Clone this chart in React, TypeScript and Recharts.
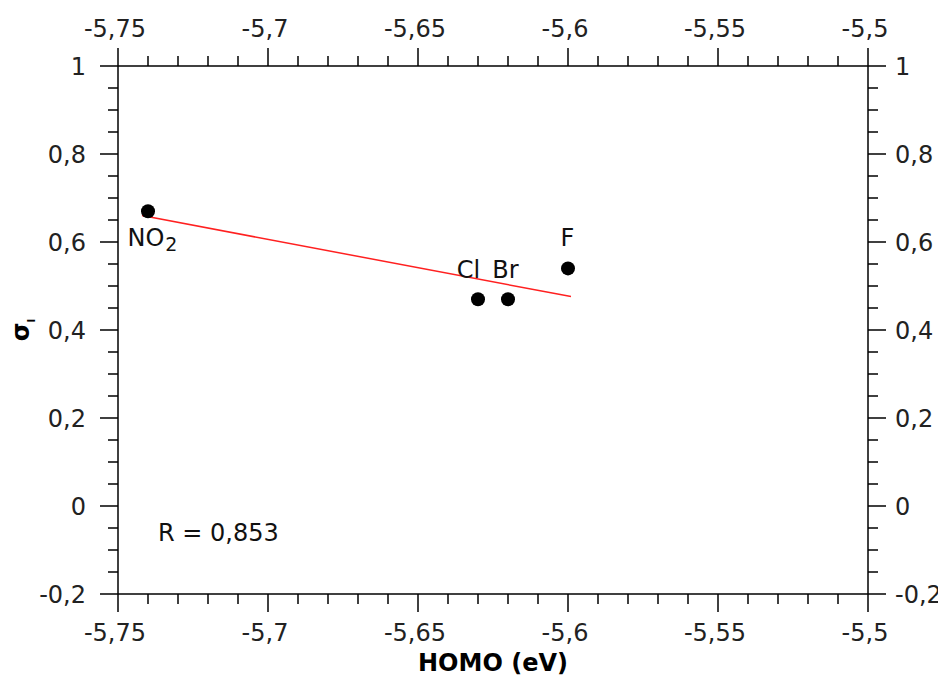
import React from 'react';
import { ComposedChart, Scatter, Line, XAxis, YAxis, LabelList, Customized } from 'recharts';

// substituents, HOMO energy (eV) and inductive constant sigma_I
const substituents = ['NO2', 'Cl', 'Br', 'F'];
const homo = [-5.74, -5.63, -5.62, -5.6];
const sigmaI = [0.67, 0.47, 0.47, 0.54];

// least-squares fit, end points
const fitHomo = [-5.742, -5.599];
const fitSigma = [0.66, 0.476];
const rValue = '0,853';

const xMajor = [-5.75, -5.7, -5.65, -5.6, -5.55, -5.5];
const xMinor = [
  -5.74, -5.73, -5.72, -5.71, -5.69, -5.68, -5.67, -5.66, -5.64, -5.63,
  -5.62, -5.61, -5.59, -5.58, -5.57, -5.56, -5.54, -5.53, -5.52, -5.51,
];
const yMajor = [-0.2, 0, 0.2, 0.4, 0.6, 0.8, 1];
const yMinor = [
  -0.15, -0.1, -0.05, 0.05, 0.1, 0.15, 0.25, 0.3, 0.35, 0.45, 0.5, 0.55,
  0.65, 0.7, 0.75, 0.85, 0.9, 0.95,
];

const points = substituents.map((name, i) => ({ name, x: homo[i], y: sigmaI[i] }));
const fitLine = fitHomo.map((x, i) => ({ x, y: fitSigma[i] }));

const xTicks = [...xMajor, ...xMinor].sort((a, b) => a - b);
const yTicks = [...yMajor, ...yMinor].sort((a, b) => a - b);

const FONT = 'DejaVu Sans';
const W = 938;
const H = 671;

const fmt = (v: number) => String(v).replace('.', ',');
const isMajor = (v: number, list: number[]) => list.some((m) => Math.abs(m - v) < 1e-9);

// ticks point outward; majors are long and labelled
const makeTick = (side: 'top' | 'bottom' | 'left' | 'right', majors: number[]) => (props: any) => {
  const { x, y, payload } = props;
  const v = payload.value;
  const major = isMajor(v, majors);
  const len = major ? 18 : 10;
  let x2 = x;
  let y2 = y;
  if (side === 'bottom') y2 = y + len;
  if (side === 'top') y2 = y - len;
  if (side === 'left') x2 = x - len;
  if (side === 'right') x2 = x + len;
  let label = null;
  if (major) {
    const common = { fontFamily: FONT, fontSize: 24, fill: '#222' };
    if (side === 'bottom')
      label = <text x={x - 3} y={y + 47} textAnchor="middle" {...common}>{fmt(v)}</text>;
    if (side === 'top')
      label = <text x={x - 3} y={y - 29} textAnchor="middle" {...common}>{fmt(v)}</text>;
    if (side === 'left')
      label = <text x={x - 32} y={y + 9} textAnchor="end" {...common}>{fmt(v)}</text>;
    if (side === 'right')
      label = <text x={x + 27} y={y + 9} textAnchor="start" {...common}>{fmt(v)}</text>;
  }
  return (
    <g>
      <line x1={x} y1={y} x2={x2} y2={y2} stroke="#000" strokeWidth={1.5} />
      {label}
    </g>
  );
};

// placement of each point's name relative to the dot
const labelPlacement: Record<string, { dx: number; dy: number }> = {
  NO2: { dx: 9, dy: 39 },
  Cl: { dx: -5, dy: -17 },
  Br: { dx: 2, dy: -17 },
  F: { dx: 4, dy: -18 },
};

const PointLabel = (props: any) => {
  const { x, y, value } = props;
  const p = labelPlacement[value] || { dx: 0, dy: -15 };
  const cx = x + p.dx;
  const cy = y + p.dy;
  if (value === 'NO2') {
    return (
      <text x={cx} y={cy} textAnchor="middle" fontFamily={FONT} fontSize={24} fill="#111">
        NO<tspan fontSize={19} dx={1} dy={5}>2</tspan>
      </text>
    );
  }
  return (
    <text x={cx} y={cy} textAnchor="middle" fontFamily={FONT} fontSize={24} fill="#111">
      {value}
    </text>
  );
};

const XTitle = (props: any) => {
  const { viewBox } = props;
  return (
    <text
      x={viewBox.x + viewBox.width / 2}
      y={viewBox.y + 77}
      textAnchor="middle"
      fontFamily={FONT}
      fontSize={24}
      fontWeight="bold"
      fill="#000"
    >
      HOMO (eV)
    </text>
  );
};

const YTitle = (props: any) => {
  const { viewBox } = props;
  const cx = 21;
  const cy = viewBox.y + viewBox.height / 2;
  return (
    <text
      x={cx}
      y={cy}
      transform={`rotate(-90, ${cx}, ${cy})`}
      textAnchor="middle"
      fontFamily={FONT}
      fontSize={24}
      fontWeight="bold"
      fill="#000"
    >
      σ<tspan fontSize={10} dy={6}>I</tspan>
    </text>
  );
};

const CorrelationNote = () => (
  <text x={150} y={533} fontFamily={FONT} fontSize={24} fill="#111">
    R = {rValue}
  </text>
);

export default function App() {
  return (
    <ComposedChart
      width={W}
      height={H}
      margin={{ top: 10, right: 18, bottom: 10, left: 10 }}
      style={{ background: '#fff' }}
    >
      <XAxis
        xAxisId="bottom"
        dataKey="x"
        type="number"
        domain={[-5.75, -5.5]}
        ticks={xTicks}
        interval={0}
        allowDataOverflow
        orientation="bottom"
        height={75}
        tickSize={0}
        tickMargin={0}
        tickLine={false}
        axisLine={{ stroke: '#000', strokeWidth: 1.5 }}
        tick={makeTick('bottom', xMajor)}
        label={{ content: <XTitle /> } as any}
      />
      <XAxis
        xAxisId="top"
        dataKey="x"
        type="number"
        domain={[-5.75, -5.5]}
        ticks={xTicks}
        interval={0}
        allowDataOverflow
        orientation="top"
        height={48}
        tickSize={0}
        tickMargin={0}
        tickLine={false}
        axisLine={{ stroke: '#000', strokeWidth: 1.5 }}
        tick={makeTick('top', xMajor)}
      />
      <YAxis
        yAxisId="left"
        dataKey="y"
        type="number"
        domain={[-0.2, 1]}
        ticks={yTicks}
        interval={0}
        allowDataOverflow
        orientation="left"
        width={100}
        tickSize={0}
        tickMargin={0}
        tickLine={false}
        axisLine={{ stroke: '#000', strokeWidth: 1.5 }}
        tick={makeTick('left', yMajor)}
        label={{ content: <YTitle /> } as any}
      />
      <YAxis
        yAxisId="right"
        dataKey="y"
        type="number"
        domain={[-0.2, 1]}
        ticks={yTicks}
        interval={0}
        allowDataOverflow
        orientation="right"
        width={60}
        tickSize={0}
        tickMargin={0}
        tickLine={false}
        axisLine={{ stroke: '#000', strokeWidth: 1.5 }}
        tick={makeTick('right', yMajor)}
      />
      <Scatter
        xAxisId="bottom"
        yAxisId="left"
        data={points}
        fill="#000"
        isAnimationActive={false}
        shape={(p: any) => <circle cx={p.cx} cy={p.cy} r={7} fill="#000" />}
      >
        <LabelList dataKey="name" content={<PointLabel />} />
      </Scatter>
      <Line
        xAxisId="bottom"
        yAxisId="left"
        data={fitLine}
        dataKey="y"
        stroke="#ff2020"
        strokeWidth={1.5}
        dot={false}
        activeDot={false}
        isAnimationActive={false}
      />
      <Customized component={CorrelationNote} />
    </ComposedChart>
  );
}
